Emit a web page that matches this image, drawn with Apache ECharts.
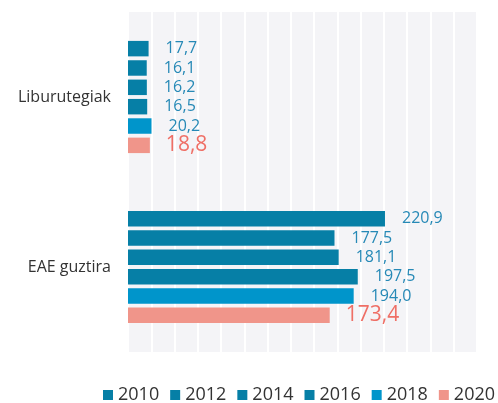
<!DOCTYPE html>
<html><head><meta charset="utf-8">
<script src="https://cdn.jsdelivr.net/npm/echarts@6/dist/echarts.min.js"></script>
<style>html,body{margin:0;padding:0;background:#fff}#c{width:498px;height:403px}</style>
</head><body><div id="c"></div>
<script>
const categories = ['Liburutegiak', 'EAE guztira'];
const years = ['2010', '2012', '2014', '2016', '2018', '2020'];
const v2010 = [17.7, 220.9];
const v2012 = [16.1, 177.5];
const v2014 = [16.2, 181.1];
const v2016 = [16.5, 197.5];
const v2018 = [20.2, 194.0];
const v2020 = [18.8, 173.4];
const seriesValues = [v2010, v2012, v2014, v2016, v2018, v2020];
const colors = ['#067fa6', '#067fa6', '#067fa6', '#067fa6', '#0095cb', '#f0958a'];
const FONT = '"Open Sans", sans-serif';

const chart = echarts.init(document.getElementById('c'), null, {renderer: 'canvas'});
const series = years.map((y, i) => {
  const last = i === years.length - 1;
  return {
    name: y,
    type: 'bar',
    data: seriesValues[i],
    barGap: '25%',
    barCategoryGap: '34%',
    itemStyle: {color: colors[i]},
    label: {
      show: true,
      position: 'right',
      distance: last ? 16 : 17,
      formatter: p => p.value.toFixed(1).replace('.', ','),
      color: last ? '#ef6f66' : '#2689b6',
      fontSize: last ? 21 : 16,
      fontFamily: FONT
    }
  };
});

chart.setOption({
  animation: false,
  color: colors,
  grid: {left: 128, right: 21, top: 12, bottom: 51, containLabel: false, show: true, backgroundColor: '#f4f4f7', borderWidth: 0},
  xAxis: {
    type: 'value', min: 0, max: 300, interval: 20,
    axisLabel: {show: false}, axisLine: {show: false}, axisTick: {show: false},
    splitLine: {show: true, lineStyle: {color: '#ffffff', width: 2}}
  },
  yAxis: {
    type: 'category', data: categories, inverse: true,
    axisLine: {show: false}, axisTick: {show: false},
    axisLabel: {color: '#333333', fontSize: 16, fontFamily: FONT, margin: 17}
  },
  legend: {
    data: years, left: 103, right: 0, top: 386, padding: 0,
    itemWidth: 10, itemHeight: 10, itemGap: 11,
    icon: 'rect',
    textStyle: {color: '#333333', fontSize: 18, fontFamily: FONT}
  },
  series: series
});
</script></body></html>
